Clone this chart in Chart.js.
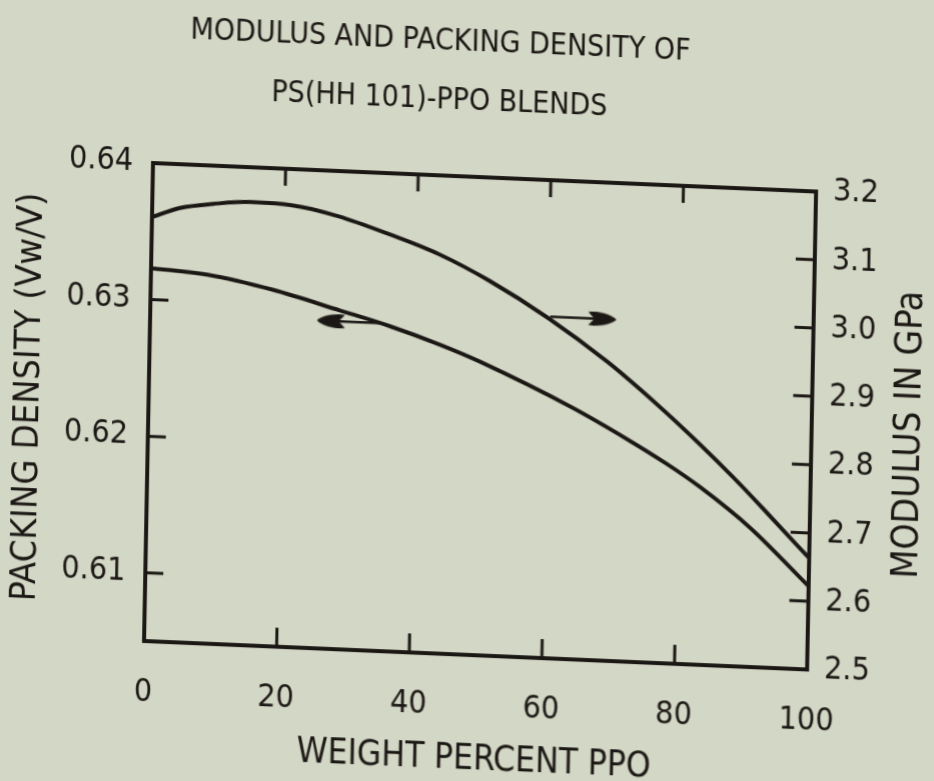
<!DOCTYPE html>
<html>
<head>
<meta charset="utf-8">
<title>Modulus and packing density of PS(HH 101)-PPO blends</title>
<script src="https://cdn.jsdelivr.net/npm/chart.js@4/dist/chart.umd.min.js"></script>
<style>
  html, body { margin: 0; padding: 0; background: #d3d7c5; overflow: hidden; }
  /* the printed figure sits slightly askew on the page */
  #wrap {
    position: absolute; left: 0; top: 0; width: 934px; height: 781px;
    transform-origin: 153px 163px;
    transform: matrix(1, 0.043, -0.0188, 1, 0, 0);
  }
</style>
</head>
<body>
<div id="wrap"><canvas id="chart" width="934" height="781"></canvas></div>
<script>
// Modulus curve (right axis, GPa)
const ppoModulus = [0, 4.2, 9.2, 14.7, 21, 28, 36, 43.5, 51, 60, 69, 76.6, 83.2, 88.3, 93.5, 100];
const modulusGPa = [3.121, 3.136, 3.144, 3.149, 3.147, 3.134, 3.110, 3.084, 3.049, 2.998, 2.938, 2.879, 2.823, 2.777, 2.727, 2.663];

// Packing density curve (left axis, Vw/V)
const ppoDensity = [0, 8.5, 18.4, 28.6, 36.2, 43.8, 49.8, 64, 72.2, 78.3, 83.4, 91, 100];
const packingDensity = [0.6323, 0.6320, 0.6311, 0.6298, 0.6288, 0.6276, 0.6265, 0.6234, 0.6213, 0.6196, 0.6180, 0.6152, 0.6111];

// Arrows telling which axis each curve belongs to
const densityArrowX = [34.7, 27.4];
const densityArrowY = 0.629;
const modulusArrowX = [60.3, 68.0];
const modulusArrowY = 3.0;

// Tick labels
const xTicks = [0, 20, 40, 60, 80, 100];
const densityTicks = [0.61, 0.62, 0.63, 0.64];
const modulusTicks = [2.5, 2.6, 2.7, 2.8, 2.9, 3.0, 3.1, 3.2];

const INK = '#1b1714';
Chart.defaults.font.family = "'Liberation Sans Narrow', 'DejaVu Sans Condensed', 'Liberation Sans', sans-serif";
Chart.defaults.color = INK;

const pts = (xs, ys) => xs.map((x, i) => ({ x: x, y: ys[i] }));

// filled arrowhead used as a point style (points right)
const arrowHead = document.createElement('canvas');
arrowHead.width = 30;
arrowHead.height = 16;
(function () {
    const c = arrowHead.getContext('2d');
    c.fillStyle = INK;
    c.beginPath();
    c.moveTo(30, 8);
    c.bezierCurveTo(24, 2, 10, 0, 2, 1.5);
    c.lineTo(8, 8);
    c.lineTo(2, 14.5);
    c.bezierCurveTo(10, 16, 24, 14, 30, 8);
    c.fill();
})();

// frame with inward tick marks, plus the right axis title reading upwards
const frameTicks = {
    id: 'frameTicks',
    afterDatasetsDraw(chart) {
        const { ctx, chartArea: a, scales } = chart;
        ctx.save();
        ctx.strokeStyle = INK;
        ctx.lineWidth = 4;
        ctx.lineJoin = 'miter';
        ctx.strokeRect(a.left, a.top, a.right - a.left, a.bottom - a.top);

        ctx.lineWidth = 3;
        ctx.beginPath();
        xTicks.slice(1, -1).forEach(v => {
            const px = scales.x.getPixelForValue(v);
            ctx.moveTo(px, a.bottom);
            ctx.lineTo(px, a.bottom - 19);
            ctx.moveTo(px, a.top);
            ctx.lineTo(px, a.top + 17);
        });
        densityTicks.slice(0, -1).forEach(v => {
            const py = scales.y.getPixelForValue(v);
            ctx.moveTo(a.left, py);
            ctx.lineTo(a.left + 18, py);
        });
        modulusTicks.slice(1, -1).forEach(v => {
            const py = scales.y1.getPixelForValue(v);
            ctx.moveTo(a.right, py);
            ctx.lineTo(a.right - 19, py);
        });
        ctx.stroke();

        ctx.fillStyle = INK;
        ctx.font = "37px " + Chart.defaults.font.family;
        ctx.textAlign = 'center';
        ctx.textBaseline = 'middle';
        ctx.translate(a.right + 98, (a.top + a.bottom) / 2);
        ctx.rotate(-Math.PI / 2);
        ctx.fillText('MODULUS IN GPa', 0, 0);
        ctx.restore();
    }
};

const setTicks = values => scale => { scale.ticks = values.map(v => ({ value: v })); };

new Chart(document.getElementById('chart'), {
    type: 'scatter',
    data: {
        datasets: [{
            label: 'Modulus',
            data: pts(ppoModulus, modulusGPa),
            yAxisID: 'y1',
            showLine: true,
            borderColor: INK,
            borderWidth: 4,
            cubicInterpolationMode: 'monotone',
            pointRadius: 0
        }, {
            label: 'Packing density',
            data: pts(ppoDensity, packingDensity),
            yAxisID: 'y',
            showLine: true,
            borderColor: INK,
            borderWidth: 4,
            cubicInterpolationMode: 'monotone',
            pointRadius: 0
        }, {
            label: 'density arrow',
            data: densityArrowX.map(x => ({ x: x, y: densityArrowY })),
            yAxisID: 'y',
            showLine: true,
            borderColor: INK,
            borderWidth: 2.5,
            pointRadius: [0, 8],
            pointStyle: arrowHead,
            rotation: 180
        }, {
            label: 'modulus arrow',
            data: modulusArrowX.map(x => ({ x: x, y: modulusArrowY })),
            yAxisID: 'y1',
            showLine: true,
            borderColor: INK,
            borderWidth: 2.5,
            pointRadius: [0, 8],
            pointStyle: arrowHead,
            rotation: 0
        }]
    },
    options: {
        responsive: false,
        animation: false,
        events: [],
        layout: {
            // title is centred a little left of the plot
            padding: { left: -58, right: 0, top: 0, bottom: 0 }
        },
        plugins: {
            legend: { display: false },
            tooltip: { enabled: false },
            title: {
                display: true,
                text: ['MODULUS AND PACKING DENSITY OF', 'PS(HH 101)-PPO BLENDS'],
                color: INK,
                font: { size: 30, weight: 'normal', lineHeight: 1.967 },
                padding: { top: 0, bottom: 45 }
            }
        },
        scales: {
            x: {
                type: 'linear',
                position: 'bottom',
                min: 0,
                max: 100,
                afterBuildTicks: setTicks(xTicks),
                afterFit: s => { s.height = 140; },
                grid: { display: false, drawTicks: false },
                border: { display: false },
                ticks: { font: { size: 32 }, padding: 32, maxRotation: 0 },
                title: {
                    display: true,
                    text: 'WEIGHT PERCENT PPO',
                    font: { size: 35 },
                    padding: { top: 0, bottom: 14 }
                }
            },
            y: {
                type: 'linear',
                position: 'left',
                min: 0.605,
                max: 0.64,
                afterBuildTicks: setTicks(densityTicks),
                afterFit: s => { s.width = 211; },
                grid: { display: false, drawTicks: false },
                border: { display: false },
                ticks: { font: { size: 32 }, padding: 20, callback: v => v.toFixed(2) },
                title: {
                    display: true,
                    text: 'PACKING DENSITY (Vw/V)',
                    font: { size: 36 },
                    padding: { top: 70, bottom: 0 }
                }
            },
            y1: {
                type: 'linear',
                position: 'right',
                min: 2.5,
                max: 3.2,
                afterBuildTicks: setTicks(modulusTicks),
                afterFit: s => { s.width = 118; },
                grid: { display: false, drawTicks: false },
                border: { display: false },
                ticks: { font: { size: 32 }, padding: 17, callback: v => v.toFixed(1) }
            }
        }
    },
    plugins: [frameTicks]
});
</script>
</body>
</html>
